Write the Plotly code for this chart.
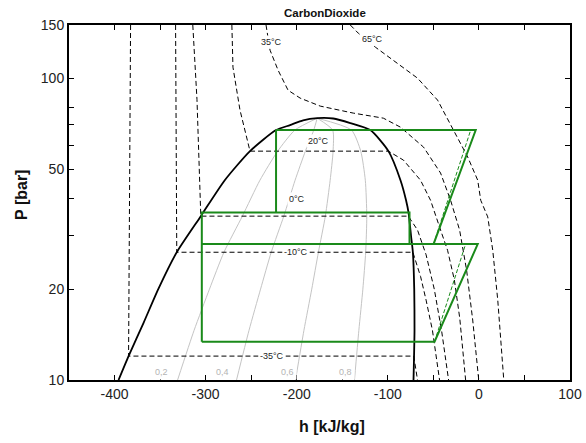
import numpy as np
import plotly.graph_objects as go

# ---------------- data (h in kJ/kg, P in bar) ----------------
dome_h = [-395.6, -384.6, -368, -352, -331.7, -305.3, -279, -251.3, -222.7, -207.3, -193.0,
          -177.5, -160, -141.2, -119.2, -99.3, -86.1, -80, -77.3, -74.5, -72.5, -71, -70.7, -71.8]
dome_P = [10, 12, 15.5, 20, 26.5, 34.9, 45.9, 57.3, 67.3, 69.9, 72.5,
          73.7, 73.5, 71.0, 67.3, 57.3, 45.9, 39.4, 35.9, 30, 26.5, 20, 14.6, 10]

# quality lines
q_P = [10, 14.6, 20, 26.5, 34.9, 45.9, 57.3, 67.3, 73.7]
q02_h = [-330.8, -312.7, -295.8, -279.9, -259.7, -240.4, -220.9, -202.0, -177.5]
q04_h = [-266.1, -252.4, -239.7, -228.0, -214.2, -201.8, -190.5, -181.3, -177.5]
q06_h = [-201.3, -192.1, -183.5, -176.2, -168.6, -163.3, -160.1, -160.6, -177.5]
q08_h = [-136.6, -131.8, -127.4, -124.3, -123.1, -124.7, -129.7, -139.9, -177.5]
q_labels = ["0,2", "0,4", "0,6", "0,8"]
q_label_h = [-348.2, -281.1, -210.6, -146.7]
q_label_P = [10.63, 10.63, 10.63, 10.63]

# isotherms
tm35_h = [-382.4, -384.6, -71.5, -67.4]
tm35_P = [150, 12, 12, 10]
tm10_h = [-333, -331.7, -72.5, -64, -58, -51, -43.2]
tm10_P = [150, 26.5, 26.5, 22, 18.4, 14.6, 10]
t0_h = [-314.1, -309.5, -305.3, -77.5, -67.4, -58, -49, -41, -33.3]
t0_P = [150, 85, 34.9, 34.9, 31.4, 26, 20, 14.6, 10]
t20_h = [-271.2, -270, -262.3, -251.3, -99.3, -82.8, -64.1, -53.1, -42.1, -34.4, -27, -21, -14.6]
t20_P = [150, 108.7, 78.4, 57.3, 57.3, 53.5, 45.9, 39.4, 31.4, 26.9, 21.5, 16, 10]
t35_h = [-233.7, -229.3, -220.5, -209.5, -196.3, -174.2, -137.9, -104.9, -86.1, -60.8, -42.1,
         -31.1, -21.2, -13.5, -6.8, -0.2]
t35_P = [150, 123.8, 106.3, 91.2, 85.9, 80.8, 76.6, 73.7, 68.8, 59.1, 48.5,
         39.4, 31.4, 23.1, 15.8, 10]
t65_h = [-141.2, -132.4, -113.7, -67.4, -45.4, -27.8, -12.3, -1.3, 2.0, 9.7, 15.2, 20.7, 24.0, 27.3]
t65_P = [150, 140.9, 126.7, 100, 84.6, 67.3, 54.8, 45.9, 39.4, 34.7, 26.9, 18.4, 13.6, 10]
iso_labels = ["-35°C", "-10°C", "0°C", "20°C", "35°C", "65°C"]
iso_label_h = [-227, -200.7, -199.6, -176, -228.2, -117]
iso_label_P = [12.0, 26.5, 39.8, 61.9, 131.6, 134.7]

# refrigeration cycle (solid) and isentropic compression (dashed)
cyc_h = [-222.7, -3.5, -49.8, None,
         -222.7, -222.7, None,
         -304.2, -304.2, -76.2, -76.2, None,
         -304.2, -1.3, -48.7, -304.2]
cyc_P = [67.3, 67.3, 28.2, None,
         67.3, 35.9, None,
         13.4, 35.9, 35.9, 28.2, None,
         28.2, 28.2, 13.4, 13.4]
isen_h = [-49.8, -9.0, None, -48.7, -14.6]
isen_P = [28.2, 67.3, None, 13.4, 28.2]

x_ticks = list(range(-450, 101, 50))
x_ticktext = [str(v) if v % 100 == 0 else "" for v in x_ticks]
y_ticks = [10, 20, 30, 40, 50, 60, 70, 80, 100, 150]
y_ticktext = ["10", "20", "", "", "50", "", "", "", "100", "150"]

FONT = "Liberation Sans, Arial, sans-serif"
fig = go.Figure()

for qh in [q02_h, q04_h, q06_h, q08_h]:
    fig.add_trace(go.Scatter(x=qh, y=q_P, mode="lines",
                             line=dict(color="#c4c4c4", width=1, shape="spline", smoothing=0.6),
                             hoverinfo="skip", showlegend=False))

for th, tp in [(tm35_h, tm35_P), (tm10_h, tm10_P), (t0_h, t0_P), (t20_h, t20_P),
               (t35_h, t35_P), (t65_h, t65_P)]:
    fig.add_trace(go.Scatter(x=th, y=tp, mode="lines",
                             line=dict(color="black", width=1, dash="5px,3px"),
                             hoverinfo="skip", showlegend=False))

fig.add_trace(go.Scatter(x=dome_h, y=dome_P, mode="lines",
                         line=dict(color="black", width=1.8, shape="spline", smoothing=0.6),
                         hoverinfo="skip", showlegend=False))

fig.add_trace(go.Scatter(x=isen_h, y=isen_P, mode="lines",
                         line=dict(color="#1a8a1a", width=1, dash="4px,2px"),
                         hoverinfo="skip", showlegend=False))
fig.add_trace(go.Scatter(x=cyc_h, y=cyc_P, mode="lines",
                         line=dict(color="#1a8a1a", width=2),
                         hoverinfo="skip", showlegend=False))

annotations = []
for t, h, p in zip(iso_labels, iso_label_h, iso_label_P):
    annotations.append(dict(x=h, y=np.log10(p), xref="x", yref="y", text=t, showarrow=False,
                            xanchor="center", yanchor="middle",
                            font=dict(family=FONT, size=9, color="#222"),
                            bgcolor="white", borderpad=1))
for t, h, p in zip(q_labels, q_label_h, q_label_P):
    annotations.append(dict(x=h, y=np.log10(p), xref="x", yref="y", text=t, showarrow=False,
                            xanchor="center", yanchor="middle",
                            font=dict(family=FONT, size=9, color="#b4b4b4"),
                            bgcolor="white", borderpad=2))
annotations += [
    dict(x=0.511, y=1.034, xref="paper", yref="paper", text="<b>CarbonDioxide</b>",
         xanchor="center", yanchor="middle",
         showarrow=False, font=dict(family=FONT, size=11.5, color="#111")),
    dict(x=0.525, y=-0.132, xref="paper", yref="paper", text="<b>h [kJ/kg]</b>",
         xanchor="center", yanchor="middle",
         showarrow=False, font=dict(family=FONT, size=16, color="#111")),
    dict(x=-0.096, y=0.521, xref="paper", yref="paper", text="<b>P [bar]</b>", textangle=-90,
         xanchor="center", yanchor="middle",
         showarrow=False, font=dict(family=FONT, size=16, color="#111")),
]

fig.update_layout(
    width=586, height=443, autosize=False,
    margin=dict(l=69, r=16, t=25, b=63, pad=0),
    paper_bgcolor="white", plot_bgcolor="white",
    showlegend=False,
    annotations=annotations,
    xaxis=dict(range=[-450, 100], tickvals=x_ticks, ticktext=x_ticktext, automargin=False,
               ticks="inside", ticklen=5, tickwidth=1, tickcolor="black",
               showline=True, linewidth=2, linecolor="black", mirror="ticks",
               showgrid=False, zeroline=False,
               tickfont=dict(family=FONT, size=14, color="#222")),
    yaxis=dict(type="log", range=[1, np.log10(150)], tickvals=y_ticks, ticktext=y_ticktext,
               automargin=False,
               ticks="inside", ticklen=5, tickwidth=1, tickcolor="black",
               showline=True, linewidth=2, linecolor="black", mirror="ticks",
               showgrid=False, zeroline=False,
               tickfont=dict(family=FONT, size=14, color="#222")),
)

fig.write_html("out.html", config={"displayModeBar": False},
               post_script="document.body.style.margin='0';document.body.style.padding='0';document.body.style.overflow='hidden';")
